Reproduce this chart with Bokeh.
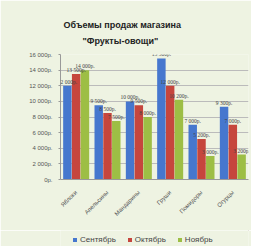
from bokeh.plotting import figure
from bokeh.layouts import column
from bokeh.models import (ColumnDataSource, FixedTicker, LabelSet, Legend, LegendItem, Title, Range1d)
from bokeh.transform import dodge
from bokeh.embed import file_html
from bokeh.resources import INLINE

categories = ["Яблоки", "Апельсины", "Мандарины", "Груши", "Помидоры", "Огурцы"]
sep = [12000, 9500, 10000, 15500, 7000, 9300]
octo = [13500, 8500, 9500, 12000, 5200, 7000]
nov = [14000, 7500, 8000, 10200, 3000, 3200]
series_names = ["Сентябрь", "Октябрь", "Ноябрь"]
colors = ["#4677CE", "#C6463D", "#9DBE45"]
y_ticks = list(range(0, 16001, 2000))


def rub(v):
    return f"{v:,}".replace(",", " ") + "р."


src = ColumnDataSource(dict(
    cat=categories, sep=sep, octo=octo, nov=nov,
    sep_t=[rub(v) for v in sep], octo_t=[rub(v) for v in octo], nov_t=[rub(v) for v in nov],
))

BG = "#eef3e2"
p = figure(x_range=categories, y_range=Range1d(0, 16000), width=251, height=230,
           output_backend="svg", toolbar_location=None,
           min_border_left=60, min_border_right=3, min_border_top=54, min_border_bottom=51)
p.border_fill_color = BG
p.background_fill_color = BG
p.outline_line_color = None

# spacer between frame and title lines
p.add_layout(Title(text=" ", text_font_size="3px", standoff=0), "above")
p.add_layout(Title(text='"Фрукты-овощи"', align="left", offset=22, text_font_size="9px",
                   text_font_style="bold", text_font="Liberation Sans",
                   text_color="#222222", standoff=8), "above")
p.add_layout(Title(text="Объемы продаж магазина", align="left", offset=3, text_font_size="9px",
                   text_font_style="bold", text_font="Liberation Sans",
                   text_color="#222222", standoff=0), "above")

renderers = []
offsets = [-0.28, 0.0, 0.28]
for col, off, color in zip(["sep", "octo", "nov"], offsets, colors):
    r = p.vbar(x=dodge("cat", off, range=p.x_range), top=col, width=0.27, source=src,
               fill_color=color, line_color=None)
    renderers.append(r)
    lbl = LabelSet(x=dodge("cat", off, range=p.x_range), y=col, text=col + "_t", source=src,
                   text_font_size="5.5px", text_align="center", text_baseline="bottom",
                   y_offset=1, text_color="#444444", text_font="Liberation Sans")
    p.add_layout(lbl)

p.yaxis.ticker = FixedTicker(ticks=y_ticks)
p.yaxis.major_label_overrides = {t: rub(t) for t in y_ticks}
p.yaxis.major_label_text_font_size = "6px"
p.yaxis.major_label_text_color = "#555555"
p.yaxis.axis_line_color = "#999999"
p.yaxis.major_tick_line_color = "#999999"
p.yaxis.major_tick_in = 0
p.yaxis.major_tick_out = 2
p.yaxis.minor_tick_line_color = None
p.yaxis.major_label_standoff = 6

p.xaxis.major_label_orientation = 0.785
p.xaxis.major_label_text_font_size = "6px"
p.xaxis.major_label_text_color = "#555555"
p.xaxis.axis_line_color = "#999999"
p.xaxis.major_tick_line_color = None
p.xaxis.major_label_standoff = 6
p.x_range.range_padding = 0.0
p.xgrid.grid_line_color = None
p.ygrid.grid_line_color = "#bbbbbb"

# legend strip under the chart
p2 = figure(width=251, height=16, output_backend="svg", toolbar_location=None,
            x_range=Range1d(0, 1), y_range=Range1d(0, 1),
            min_border_left=0, min_border_right=0, min_border_top=0, min_border_bottom=0)
p2.border_fill_color = BG
p2.background_fill_color = BG
p2.outline_line_color = None
p2.axis.visible = False
p2.grid.visible = False
dummy = []
for color in colors:
    dummy.append(p2.vbar(x=[5], top=[5], bottom=[4], width=0.1, fill_color=color, line_color=None))
legend = Legend(items=[LegendItem(label=n, renderers=[r]) for n, r in zip(series_names, dummy)],
                orientation="horizontal", location=(12, 2),
                glyph_width=5, glyph_height=5, label_text_font_size="8px",
                label_text_color="#444444", spacing=11, padding=2, margin=0,
                background_fill_alpha=0, border_line_color=None,
                label_standoff=3, label_height=8)
p2.add_layout(legend, "center")

layout = column(p, p2, spacing=0)
open("out.html", "w").write(file_html(layout, INLINE))
